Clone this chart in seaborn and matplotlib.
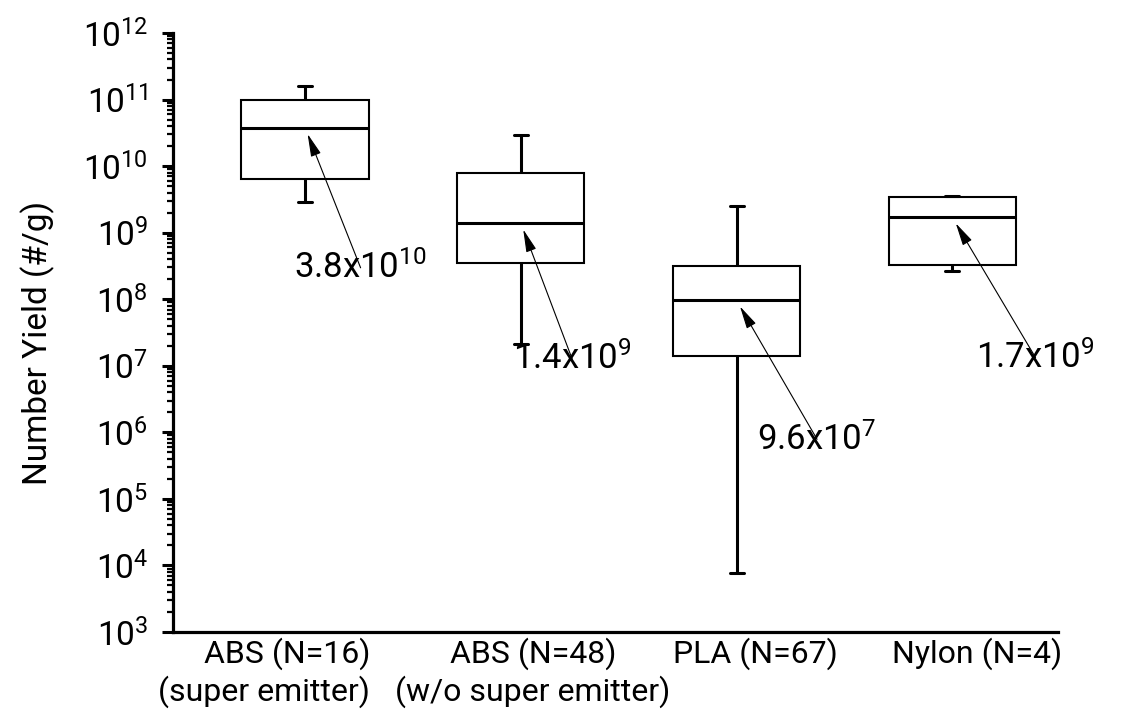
import math
import pandas as pd
import matplotlib
matplotlib.use("Agg")
import matplotlib.pyplot as plt
import matplotlib.ticker as mticker
from matplotlib.transforms import ScaledTranslation
import seaborn as sns

# five-number summaries (per material)
groups = ["ABS (N=16)\n(super emitter)", "ABS (N=48)\n(w/o super emitter)",
          "PLA (N=67)", "Nylon (N=4)"]
whisker_low = [2.9e9, 2.1e7, 7.7e3, 2.7e8]
q1 = [6.3e9, 3.5e8, 1.4e7, 3.3e8]
median = [3.8e10, 1.4e9, 9.6e7, 1.7e9]
q3 = [9.8e10, 7.9e9, 3.2e8, 3.4e9]
whisker_high = [1.6e11, 2.9e10, 2.5e9, 3.6e9]
median_labels = [r"3.8x10$^{10}$", r"1.4x10$^{9}$", r"9.6x10$^{7}$", r"1.7x10$^{9}$"]

# long table: the five summary values per group reproduce the box exactly
rows = []
for g, a, b, c, d, e in zip(groups, whisker_low, q1, median, q3, whisker_high):
    for v in (a, b, c, d, e):
        rows.append({"group": g, "value": v})
df = pd.DataFrame(rows)

sns.set_style("ticks", rc={"axes.edgecolor": "black", "xtick.color": "black",
                           "ytick.color": "black", "text.color": "black",
                           "axes.labelcolor": "black"})
plt.rcParams["font.family"] = ["Roboto", "DejaVu Sans"]
plt.rcParams["mathtext.fontset"] = "custom"
plt.rcParams["mathtext.rm"] = "Roboto"
plt.rcParams["mathtext.it"] = "Roboto:italic"
plt.rcParams["mathtext.bf"] = "Roboto:bold"

fig = plt.figure(figsize=(11.25, 7.16), dpi=100)
ax = fig.add_axes([0.1538, 0.1173, 0.7866, 0.8366])

sns.boxplot(data=df, x="group", y="value", order=groups, log_scale=True,
            whis=(0, 100), width=0.59, color="white", linecolor="black",
            linewidth=1.5, fliersize=0, capwidths=0.065,
            medianprops={"linewidth": 2.2},
            whiskerprops={"linewidth": 2.2},
            capprops={"linewidth": 2.2}, ax=ax)

ax.set_ylim(1e3, 1e12)
ax.set_xlim(-0.612, 3.49)
ax.yaxis.set_major_locator(mticker.LogLocator(base=10, numticks=20))
ax.yaxis.set_minor_locator(mticker.LogLocator(base=10, subs=range(2, 10), numticks=20))
ax.yaxis.set_minor_formatter(mticker.NullFormatter())
ax.yaxis.set_major_formatter(mticker.FuncFormatter(lambda v, p: r"$10^{%d}$" % round(math.log10(v))))

sns.despine(ax=ax)
for s in ("left", "bottom"):
    ax.spines[s].set_linewidth(2.3)
ax.tick_params(axis="y", which="major", direction="out", length=8, width=2.2,
               labelsize=24, pad=10)
ax.tick_params(axis="y", which="minor", direction="out", length=4, width=1.6)
ax.tick_params(axis="x", length=0, labelsize=23, pad=4)

ax.set_xlabel("")
ax.set_ylabel("Number Yield (#/g)", fontsize=24)
ax.yaxis.set_label_coords(-0.133, 0.483)

# nudge the category labels like the original
shifts = [-41, 12, 19, 25]
for lab, dx in zip(ax.get_xticklabels(), shifts):
    lab.set_transform(lab.get_transform() + ScaledTranslation(dx / 100, 0, fig.dpi_scale_trans))
    lab.set_linespacing(1.2)
ax.get_xticklabels()[0].set_multialignment("right")

offsets = [(40, -101), (37, -98), (58, -100), (60, -101)]
for i, (m, txt, off) in enumerate(zip(median, median_labels, offsets)):
    ax.annotate(txt, xy=(i, m), xytext=off, textcoords="offset points",
                ha="center", va="center", fontsize=25,
                arrowprops=dict(arrowstyle="-|>,head_length=0.7,head_width=0.16",
                                color="black", lw=0.8, shrinkA=0, shrinkB=5,
                                patchA=None, mutation_scale=20))

fig.savefig("out.png", dpi=100)
